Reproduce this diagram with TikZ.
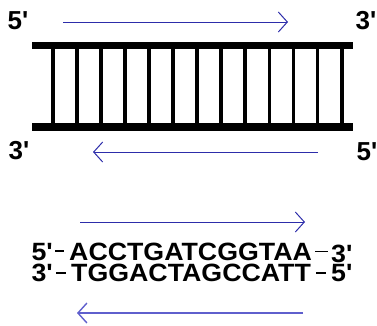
\documentclass[tikz,border=0pt]{standalone}
\usepackage{fontspec}
\newfontfamily\dnafont{Liberation Sans}[Ligatures=TeXOff]
\newfontfamily\seqfont{Liberation Sans}[Ligatures=TeXOff, FakeStretch=1.07]
\usetikzlibrary{arrows.meta, positioning}
\definecolor{arrowblue}{RGB}{45,45,170}
\definecolor{arrowlight}{RGB}{95,95,205}

\begin{document}
\begin{tikzpicture}[x=1pt, y=-1pt]
\tikzset{
endlabel/.style={font=\dnafont\fontsize{26}{26}\selectfont\bfseries, inner sep=0pt}, % 5' and 3' ends of the ladder
seq/.style={font=\seqfont\fontsize{25}{25}\selectfont\bfseries, inner sep=0pt}, % base letters
dir/.style={draw=arrowblue, line width=1pt, -{Straight Barb[length=9pt, width=20pt]}}, % reading direction
rail/.style={line width=7.5pt}, % backbone
rung/.style={line width=3.8pt}, % base pairs
bondline/.style={line width=1.2pt}, % short dash between end and sequence
}
\useasboundingbox (0,0) rectangle (377,325);
	% ladder
	\draw[rail] (32,45.5) -- (353,45.5);
	\draw[rail] (32,127) -- (353,127);
	\foreach \i in {0,...,12}
		\draw[rung] ({52.7+24.08*\i},49) -- ({52.7+24.08*\i},123.5);
	
	\node[endlabel] (top5) at (18,20.5) {5'};
	\node[endlabel] (top3) at (366,21) {3'};
	\node[endlabel] (bot3) at (19,151) {3'};
	\node[endlabel] (bot5) at (367,152) {5'};
	
	\coordinate (ua) at (63,22);
	\coordinate (ub) at (288,22);
	\coordinate (la) at (318,152);
	\coordinate (lb) at (93,152);
	\draw[dir] (ua) -- (ub);
	\draw[dir] (la) -- (lb);
	
	% sequence
	\node[seq, anchor=base west] (seqtop) at (69,260) {ACCTGATCGGTAA};
	\node[seq, anchor=base east] (s5) at (53,260) {5'};
	\node[seq, anchor=base west] (s3) at (331,262) {3'};
	\node[seq, anchor=base west] (seqbot) at (71,281) {TGGACTAGCCATT};
	\node[seq, anchor=base east] (r3) at (53,281) {3'};
	\node[seq, anchor=base west] (r5) at (331,281) {5'};
	
	\draw[bondline] ([xshift=2pt, yshift=9pt]s5.base east) -- ([xshift=-5pt, yshift=9pt]seqtop.base west);
	\draw[bondline] ([xshift=3pt, yshift=8.5pt]seqtop.base east) -- ([xshift=-3pt, yshift=8.5pt]seqtop.base east -| s3.west);
	\draw[bondline] ([xshift=3pt, yshift=8pt]r3.base east) -- ([xshift=-5pt, yshift=8pt]seqbot.base west);
	\draw[bondline] ([xshift=5pt, yshift=8pt]seqbot.base east) -- ([xshift=-5pt, yshift=8pt]seqbot.base east -| r5.west);
	
	\coordinate (sa) at (80,222);
	\coordinate (sb) at (305,222);
	\coordinate (ta) at (303,313);
	\coordinate (tb) at (77,313);
	\draw[dir] (sa) -- (sb);
	\draw[dir, draw=arrowlight, line width=1.4pt] (ta) -- (tb);
\end{tikzpicture}
\end{document}
